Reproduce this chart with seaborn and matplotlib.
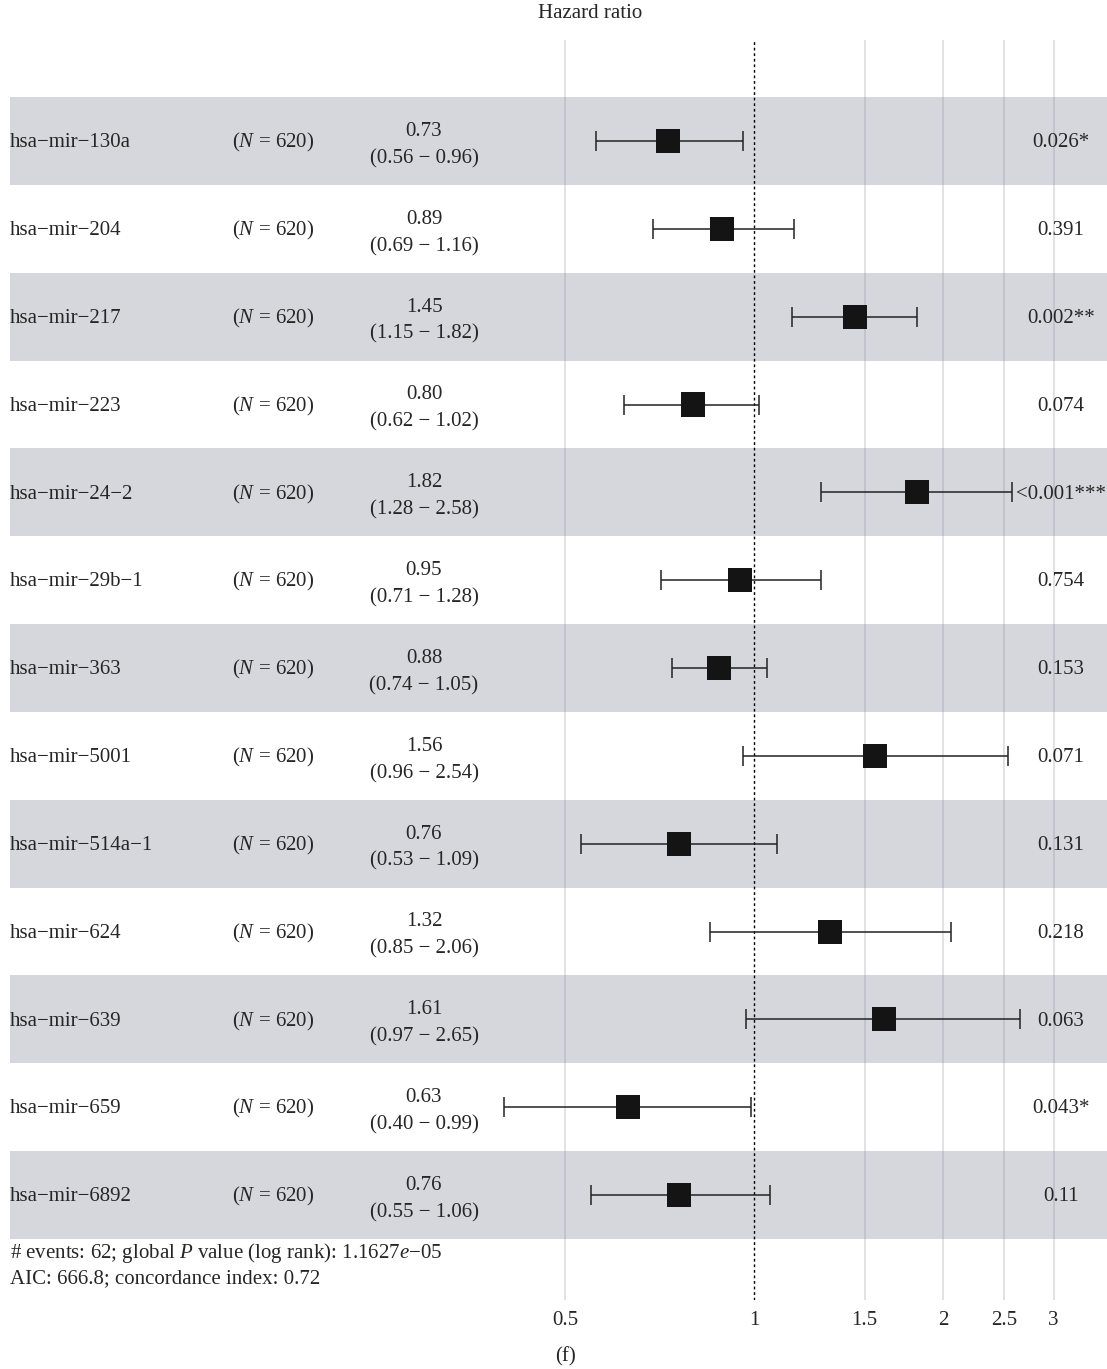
import numpy as np
import pandas as pd
import seaborn as sns
import matplotlib.pyplot as plt
from matplotlib.transforms import blended_transform_factory

# Values
genes = ["hsa−mir−130a", "hsa−mir−204", "hsa−mir−217", "hsa−mir−223", "hsa−mir−24−2",
         "hsa−mir−29b−1", "hsa−mir−363", "hsa−mir−5001", "hsa−mir−514a−1", "hsa−mir−624",
         "hsa−mir−639", "hsa−mir−659", "hsa−mir−6892"]
hr = [0.73, 0.89, 1.45, 0.80, 1.82, 0.95, 0.88, 1.56, 0.76, 1.32, 1.61, 0.63, 0.76]
ci_low = [0.56, 0.69, 1.15, 0.62, 1.28, 0.71, 0.74, 0.96, 0.53, 0.85, 0.97, 0.40, 0.55]
ci_high = [0.96, 1.16, 1.82, 1.02, 2.58, 1.28, 1.05, 2.54, 1.09, 2.06, 2.65, 0.99, 1.06]
p_text = ["0.026", "0.391", "0.002", "0.074", "<0.001", "0.754", "0.153", "0.071",
          "0.131", "0.218", "0.063", "0.043", "0.11"]
stars = ["*", "", "**", "", "***", "", "", "", "", "", "", "*", ""]
n_obs = 620
tick_vals = [0.5, 1, 1.5, 2, 2.5, 3]
footnote = ["# events: 62; global $\\mathit{P}$ value (log rank): 1.1627$\\mathit{e}$−05",
            "AIC: 666.8; concordance index: 0.72"]

df = pd.DataFrame({"gene": genes, "hr": hr, "lo": ci_low, "hi": ci_high})
df["row"] = np.arange(len(df))

sns.set_theme(style="white")
plt.rcParams["font.family"] = ["Liberation Serif", "DejaVu Serif"]
plt.rcParams["mathtext.fontset"] = "custom"
plt.rcParams["mathtext.rm"] = "Liberation Serif"
plt.rcParams["mathtext.it"] = "Liberation Serif:italic"

W, H = 1107, 1369
fig = plt.figure(figsize=(W / 100, H / 100), dpi=100)
ax = fig.add_axes([10 / W, 1 - 1300 / H, 1 - 10 / W, (1300 - 40) / H])

fs = 15
band = "#d6d7dd"

# alternating bands
for i in df["row"]:
    if i % 2 == 0:
        ax.axhspan(i - 0.5, i + 0.5, color=band, lw=0, zorder=0)

# vertical gridlines and reference line
for v in tick_vals:
    if v != 1:
        ax.axvline(v, color="#8a8a9e", alpha=0.3, lw=1.2, zorder=1)
ax.axvline(1, color="black", ls=(0, (2, 2)), lw=1, zorder=2)

# confidence intervals
ax.errorbar(df["hr"], df["row"], xerr=[df["hr"] - df["lo"], df["hi"] - df["hr"]],
            fmt="none", ecolor="#222222", elinewidth=1.1, capsize=7, capthick=1.1, zorder=3)
sns.scatterplot(data=df, x="hr", y="row", marker="s", s=300, color="#141414",
                edgecolor="none", ax=ax, zorder=4, legend=False)

ax.set_xscale("log")
ax.set_xlim(2 ** -3.937, 2 ** 1.868)
ax.set_ylim(12 + 1.195, -1.15)
ax.set_xticks(tick_vals)
ax.set_xticklabels([f"{v:g}" for v in tick_vals], fontsize=fs)
ax.minorticks_off()
ax.set_yticks([])
ax.set_xlabel("")
ax.set_ylabel("")
ax.tick_params(axis="x", length=0, pad=8)
for s in ax.spines.values():
    s.set_visible(False)

tr = blended_transform_factory(fig.transFigure, ax.transData)
for _, r in df.iterrows():
    y = r["row"]
    i = int(y)
    ax.text(10 / W, y + 0.02, r["gene"], transform=tr, ha="left", va="center", fontsize=fs)
    ax.text(273 / W, y + 0.02, f"($\\mathit{{N}}$ = {n_obs})", transform=tr, ha="center",
            va="center", fontsize=fs)
    ax.text(424 / W, y - 0.11, f"{r['hr']:.2f}", transform=tr, ha="center",
            va="center", fontsize=fs)
    ax.text(424 / W, y + 0.2, f"({r['lo']:.2f} − {r['hi']:.2f})", transform=tr,
            ha="center", va="center", fontsize=fs)
    ptxt = ax.text(1061 / W, y + 0.02, p_text[i] + stars[i], transform=tr, ha="center",
                   va="center", fontsize=fs)

fig.text(10 / W, 1 - 1253 / H, footnote[0], ha="left", va="center", fontsize=fs)
fig.text(10 / W, 1 - 1279 / H, footnote[1], ha="left", va="center", fontsize=fs)
fig.text(590 / W, 1 - 14 / H, "Hazard ratio", ha="center", va="center", fontsize=fs)
fig.text(565 / W, 1 - 1357 / H, "(f)", ha="center", va="center", fontsize=fs)

fig.savefig("out.png", dpi=100)
